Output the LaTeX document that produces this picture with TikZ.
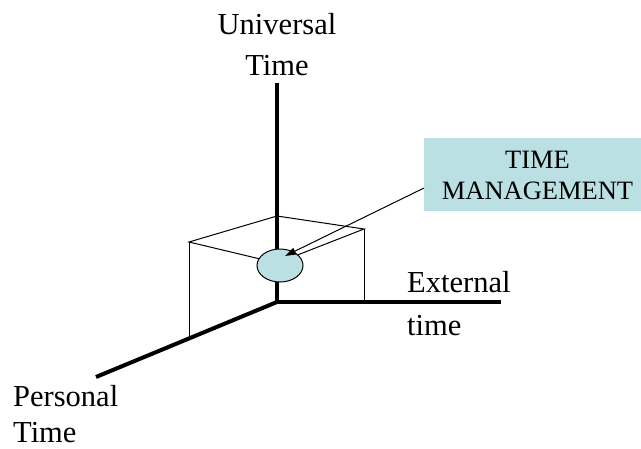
\documentclass[tikz,border=0pt]{standalone}
\usepackage{fontspec}
\setmainfont{Liberation Serif}
\usetikzlibrary{arrows.meta,shapes.geometric}
\definecolor{boxblue}{RGB}{186,224,228}
\tikzset{
  axis/.style={line width=4pt, line cap=butt},
  thinline/.style={line width=1pt},
  biglabel/.style={inner sep=0pt, font=\fontsize{30.5}{36}\selectfont},
  boxlabel/.style={inner sep=0pt, font=\fontsize{26.5}{32}\selectfont},
}
\begin{document}
\begin{tikzpicture}[x=1pt,y=-1pt]
\useasboundingbox (0,0) rectangle (641,448);
% axes points
\coordinate (O) at (277,302);
\coordinate (U) at (277,83);
\coordinate (E) at (501,302);
\coordinate (P) at (96,377);
% cube points
\coordinate (B) at (277,216);
\coordinate (L) at (189,242);
\coordinate (R) at (364,229);
\coordinate (F) at (277,263);
\coordinate (Lb) at (189,338.5);
\coordinate (Rb) at (364,302);
% cube
\draw[thinline] (B) -- (L) -- (F) -- (R) -- (B);
\draw[thinline] (L) -- (Lb);
\draw[thinline] (R) -- (Rb);
% axes
\draw[axis] (O) -- (U);
\draw[axis] (O) -- (E);
\draw[axis] (O) -- (P);
% ellipse
\node[draw, thinline, fill=boxblue, ellipse, minimum width=46pt, minimum height=33pt, inner sep=0pt] (ell) at (280,265.5) {};
% box
\node[fill=boxblue, minimum width=217pt, minimum height=73pt, anchor=north west, inner sep=0pt] (tm) at (424,138) {};
\node[boxlabel, anchor=base] (tm1) at (537.5,168) {TIME};
\node[boxlabel, anchor=base] (tm2) at (537.5,199) {MANAGEMENT};
\coordinate (as) at (tm.west |- 0,188);
\coordinate (ae) at (285,256);
\draw[thinline, -{Triangle[length=11pt,width=7pt]}] (as) -- (ae);
% labels
\node[biglabel, anchor=base] (u1) at (277,34) {Universal};
\node[biglabel, anchor=base] (u2) at (277,75) {Time};
\node[biglabel, anchor=base west] (e1) at (407,292) {External};
\node[biglabel, anchor=base west] (e2) at (407,335) {time};
\node[biglabel, anchor=base west] (p1) at (13,406) {Personal};
\node[biglabel, anchor=base west] (p2) at (13,442) {Time};
\end{tikzpicture}
\end{document}
